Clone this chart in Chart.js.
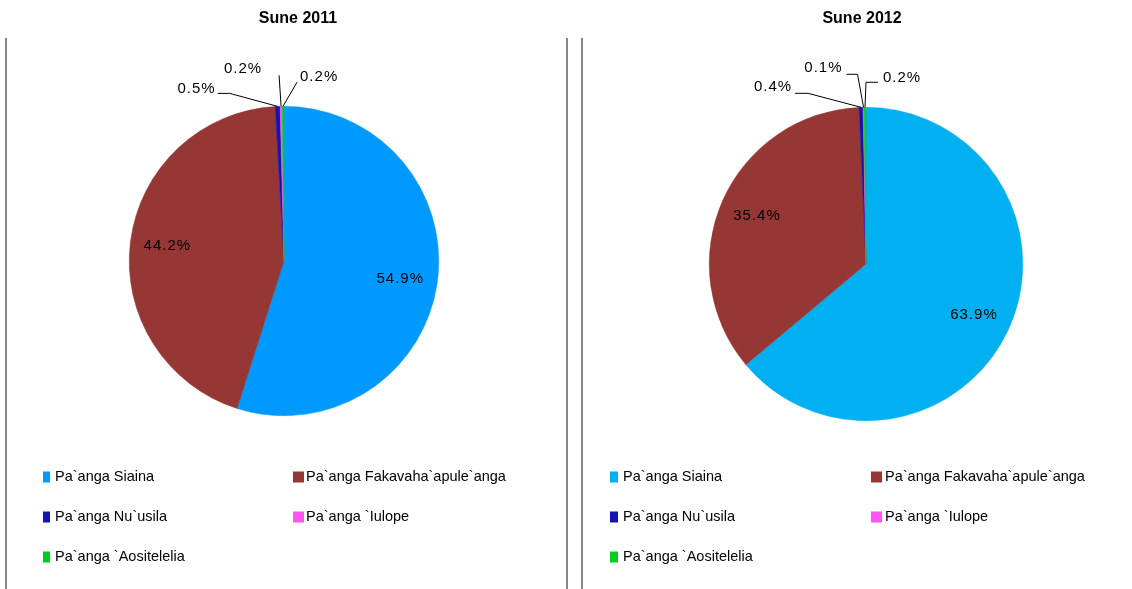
<!DOCTYPE html>
<html>
<head>
<meta charset="utf-8">
<script src="https://cdn.jsdelivr.net/npm/chart.js@4"></script>
<style>
  html, body { margin: 0; padding: 0; background: #fff; }
  #wrap { position: relative; width: 1132px; height: 589px; overflow: hidden; }
  #wrap canvas { position: absolute; left: 0; top: 0; }
  .rule { position: absolute; top: 38px; bottom: 0; width: 2px; background: #888; }
</style>
</head>
<body>
<div id="wrap">
  <div class="rule" style="left:5px"></div>
  <div class="rule" style="left:566px"></div>
  <div class="rule" style="left:581px"></div>
  <canvas id="c2011" width="1132" height="589"></canvas>
  <canvas id="c2012" width="1132" height="589"></canvas>
</div>
<script>
const CATEGORIES = ['Pa`anga Siaina', 'Pa`anga Fakavaha`apule`anga', 'Pa`anga Nu`usila', 'Pa`anga `Iulope', 'Pa`anga `Aositelelia'];
const TITLES = ['Sune 2011', 'Sune 2012'];
const SHARE_2011 = [54.9, 44.2, 0.5, 0.2, 0.2];
const SHARE_2012 = [63.9, 35.4, 0.4, 0.1, 0.2];
const COLORS_2011 = ['#0099FF', '#953735', '#1414B0', '#FF55EE', '#00CC22'];
const COLORS_2012 = ['#00B0F0', '#953735', '#1414B0', '#FF55EE', '#00CC22'];

const FONT = '"Liberation Sans", Arial, sans-serif';

// draws title, percentage labels (with leader lines for the tiny slices) and the 2-column legend
const decor = {
  id: 'decor',
  afterDraw(chart, args, opts) {
    const ctx = chart.ctx;
    const ds = chart.data.datasets[0];
    const meta = chart.getDatasetMeta(0);
    ctx.save();
    ctx.fillStyle = '#000';
    ctx.textBaseline = 'middle';

    ctx.font = 'bold 16px ' + FONT;
    ctx.textAlign = 'center';
    ctx.fillText(opts.title, opts.titleX, 19);

    ctx.font = '15px ' + FONT;
    ctx.letterSpacing = '1px';
    meta.data.forEach((arc, i) => {
      const p = arc.getProps(['x', 'y', 'startAngle', 'endAngle', 'outerRadius'], true);
      const mid = (p.startAngle + p.endAngle) / 2;
      const text = ds.data[i].toFixed(1) + '%';
      const lead = opts.leaders[i];
      if (!lead) {
        const r = p.outerRadius * 0.76;
        ctx.textAlign = 'center';
        ctx.fillText(text, p.x + Math.cos(mid) * r, p.y + Math.sin(mid) * r);
        return;
      }
      const ox = p.x + Math.cos(mid) * p.outerRadius;
      const oy = p.y + Math.sin(mid) * p.outerRadius;
      ctx.beginPath();
      ctx.moveTo(ox, oy);
      lead.path.forEach(([dx, dy]) => ctx.lineTo(ox + dx, oy + dy));
      ctx.strokeStyle = '#000';
      ctx.lineWidth = 1;
      ctx.stroke();
      ctx.textAlign = lead.align;
      ctx.fillText(text, ox + lead.text[0], oy + lead.text[1]);
    });

    // legend
    const lg = opts.legend;
    ctx.letterSpacing = '0px';
    ctx.font = '14.5px ' + FONT;
    ctx.textAlign = 'left';
    chart.data.labels.forEach((label, i) => {
      const col = i % 2;
      const y = lg.rows[Math.floor(i / 2)];
      ctx.fillStyle = ds.backgroundColor[i];
      ctx.fillRect(lg.boxX[col], y - 5.5, lg.boxW[col], 11);
      ctx.fillStyle = '#000';
      ctx.fillText(label, lg.textX[col], y);
    });
    ctx.restore();
  }
};

function makePie(id, values, colors, padding, decorOpts) {
  return new Chart(document.getElementById(id), {
    type: 'pie',
    data: {
      labels: CATEGORIES,
      datasets: [{ data: values, backgroundColor: colors, borderColor: colors, borderWidth: 0.5 }]
    },
    options: {
      responsive: false,
      animation: false,
      events: [],
      layout: { padding },
      plugins: {
        legend: { display: false },
        tooltip: { enabled: false },
        decor: decorOpts
      }
    },
    plugins: [decor]
  });
}

makePie('c2011', SHARE_2011, COLORS_2011,
  { left: 129, right: 693, top: 106, bottom: 173 },
  {
    title: TITLES[0], titleX: 298,
    leaders: [null, null,
      { path: [[-48, -13], [-60, -13]], text: [-62, -18], align: 'right' },
      { path: [[-2, -31]], text: [-19, -37], align: 'right' },
      { path: [[14, -24]], text: [17, -29], align: 'left' }],
    legend: { boxX: [43, 293], boxW: [7, 11], textX: [55, 306], rows: [477, 517, 557] }
  });

makePie('c2012', SHARE_2012, COLORS_2012,
  { left: 709, right: 109, top: 107, bottom: 168 },
  {
    title: TITLES[1], titleX: 862,
    leaders: [null, null,
      { path: [[-53, -14], [-66, -14]], text: [-69, -20], align: 'right' },
      { path: [[-6, -33], [-17, -33]], text: [-21, -39], align: 'right' },
      { path: [[1, -25], [13, -25]], text: [18, -29], align: 'left' }],
    legend: { boxX: [610, 871], boxW: [8, 11], textX: [623, 885], rows: [477, 517, 557] }
  });
</script>
</body>
</html>
